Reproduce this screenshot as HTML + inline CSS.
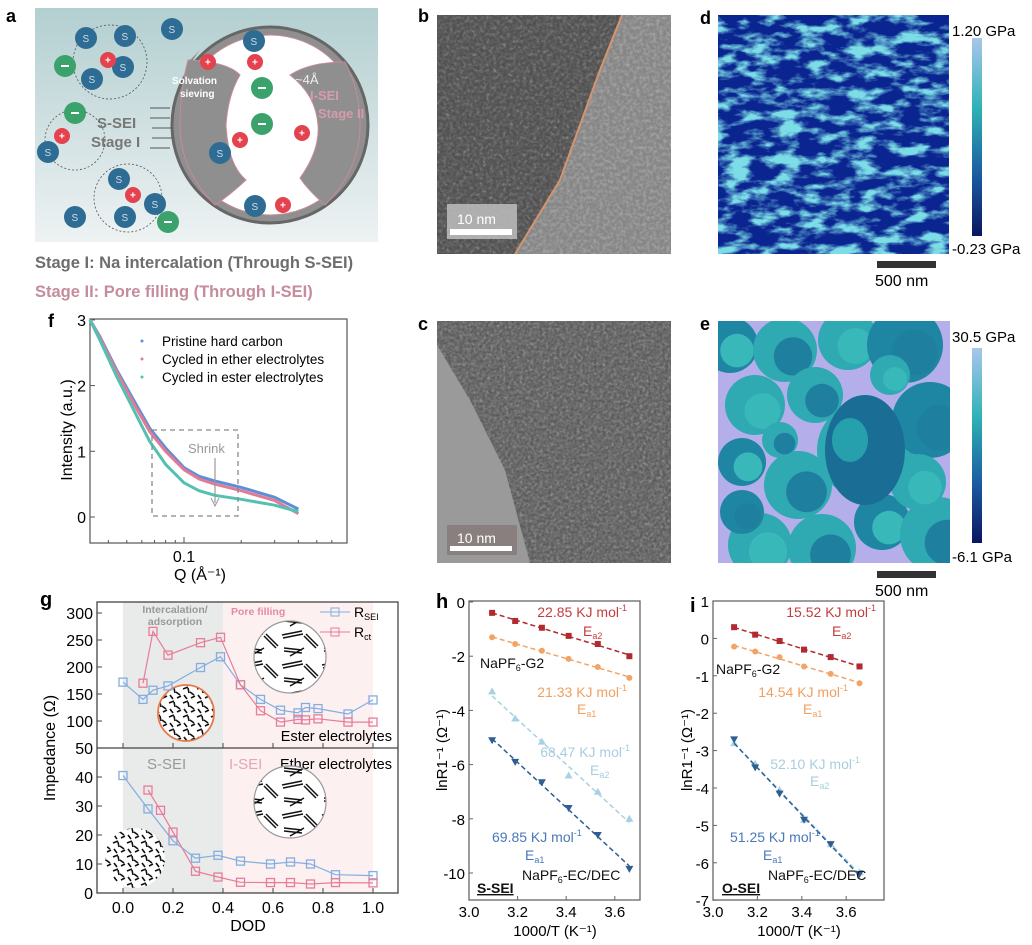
<!DOCTYPE html>
<html><head><meta charset="utf-8">
<style>
html,body{margin:0;padding:0;background:#fff;}
svg{display:block;font-family:"Liberation Sans",Arial,sans-serif;}
</style></head>
<body>
<svg id="fig" width="1032" height="945" viewBox="0 0 1032 945" xmlns="http://www.w3.org/2000/svg">
<defs>
 <linearGradient id="bgA" x1="0" y1="0" x2="0" y2="1"><stop offset="0" stop-color="#b3cfd0"/><stop offset="1" stop-color="#eef2f3"/></linearGradient>
 <linearGradient id="cbar" x1="0" y1="0" x2="0" y2="1"><stop offset="0" stop-color="#a9c6ea"/><stop offset="0.35" stop-color="#2fb3b5"/><stop offset="0.7" stop-color="#1a5aa0"/><stop offset="1" stop-color="#0a1560"/></linearGradient>
 <filter id="noiseDark" x="0" y="0" width="1" height="1"><feTurbulence type="fractalNoise" baseFrequency="0.35" numOctaves="2" seed="2"/><feColorMatrix type="matrix" values="0 0 0 0 0.1 0 0 0 0 0.1 0 0 0 0 0.1 2.2 0 0 0 -0.7"/></filter>
 <filter id="noiseLight" x="0" y="0" width="1" height="1"><feTurbulence type="fractalNoise" baseFrequency="0.3" numOctaves="2" seed="5"/><feColorMatrix type="matrix" values="0 0 0 0 0.95 0 0 0 0 0.95 0 0 0 0 0.95 1.6 0 0 0 -0.6"/></filter>
 <filter id="noiseD" x="0" y="0" width="1" height="1"><feTurbulence type="fractalNoise" baseFrequency="0.04 0.09" numOctaves="4" seed="11"/><feColorMatrix type="matrix" values="0 0 0 0 0.2 0 0 0 0 0.72 0 0 0 0 0.8 4 0 0 0 -1.75"/></filter>
 <pattern id="carbon" width="14" height="14" patternUnits="userSpaceOnUse">
  <rect width="14" height="14" fill="#fff"/>
  <path d="M1 3l5 -2M8 6l4 3M2 9l3 4M9 12l4 -2M6 2l1 5" stroke="#111" stroke-width="1.6"/>
 </pattern>
 <pattern id="carbonBig" width="40" height="30" patternUnits="userSpaceOnUse">
  <rect width="40" height="30" fill="#fff"/>
  <path d="M2 5l20 -4M3 8l20 -4M24 6l12 12M26 4l12 12M4 18l18 2M4 21l18 2M10 26l14 -8" stroke="#111" stroke-width="1.5" fill="none"/>
 </pattern>
 <clipPath id="cb"><polygon points="437,15 622,15 600,70 560,180 515,254 437,254"/></clipPath>
 <clipPath id="cc"><polygon points="437,321 671,321 671,563 530,563 505,470 470,400 437,345"/></clipPath>
 <clipPath id="ce"><rect x="718" y="321" width="232" height="242"/></clipPath>
</defs>

<!-- Panel a -->
<g>
 <text x="6" y="22" font-size="18" font-weight="bold">a</text>
 <rect x="35" y="8" width="343" height="234" fill="url(#bgA)"/>
 <circle cx="270" cy="125" r="98" fill="#8f8f8f" stroke="#666" stroke-width="3"/>
 <circle cx="270" cy="125" r="90" fill="#fff" stroke="#c98a9a" stroke-width="1"/>
 <path d="M188 60 Q228 62 240 75 Q228 95 226 125 Q228 165 246 180 Q230 195 215 205 Q180 170 180 125 Q180 90 188 60 Z" fill="#8f8f8f" stroke="#c98a9a" stroke-width="1"/>
 <path d="M180 125 Q176 80 200 50 L190 60 Q178 90 180 125Z" fill="#8f8f8f"/>
 <path d="M345 62 Q360 90 360 125 Q360 170 325 205 Q308 190 300 178 Q320 150 318 125 Q316 95 290 75 Q310 62 345 62 Z" fill="#8f8f8f" stroke="#c98a9a" stroke-width="1"/>
 <text x="172" y="84" font-size="10" fill="#fff" font-weight="bold">Solvation</text>
 <text x="180" y="97" font-size="10" fill="#fff" font-weight="bold">sieving</text>
 <text x="295" y="84" font-size="13" fill="#eee">~4Å</text>
 <text x="310" y="100" font-size="13" fill="#d79cab" font-weight="bold">I-SEI</text>
 <text x="318" y="118" font-size="13" fill="#d79cab" font-weight="bold">Stage II</text>
 <text x="97" y="128" font-size="15" fill="#777" font-weight="bold">S-SEI</text>
 <text x="91" y="147" font-size="15" fill="#777" font-weight="bold">Stage I</text>
 <path d="M150 108h20M150 118h20M152 128h20M152 138h20M150 148h20" stroke="#555" stroke-width="1"/>
 <g id="ions"></g>
 <text x="35" y="268" font-size="16.5" font-weight="bold" fill="#6d6d6d">Stage I: Na intercalation (Through S-SEI)</text>
 <text x="35" y="297" font-size="16.5" font-weight="bold" fill="#c58c9b">Stage II: Pore filling (Through I-SEI)</text>
</g>

<!-- Panel b -->
<g>
 <text x="418" y="22" font-size="18" font-weight="bold">b</text>
 <rect x="437" y="15" width="234" height="239" fill="#868686"/>
 <rect x="437" y="15" width="234" height="239" fill="#8f8f8f" filter="url(#noiseLight)" opacity="0.35"/>
 <polygon points="437,15 622,15 600,70 560,180 515,254 437,254" fill="#4e4e4e"/>
 <rect x="437" y="15" width="234" height="239" fill="#777" filter="url(#noiseLight)" opacity="0.45" clip-path="url(#cb)"/>
 <rect x="437" y="15" width="234" height="239" fill="#555" filter="url(#noiseDark)" clip-path="url(#cb)"/>
 <polyline points="622,15 600,70 560,180 515,254" fill="none" stroke="#d4956e" stroke-width="2"/>
 <rect x="447" y="204" width="70" height="35" fill="#b8b8b8" opacity="0.9"/>
 <text x="457" y="224" font-size="14" fill="#fff">10 nm</text>
 <rect x="450" y="229" width="62" height="6" fill="#fff"/>
</g>

<!-- Panel c -->
<g>
 <text x="418" y="330" font-size="18" font-weight="bold">c</text>
 <rect x="437" y="321" width="234" height="242" fill="#9a9a9a"/>
 <polygon points="437,321 671,321 671,563 530,563 505,470 470,400 437,345" fill="#6e6e6e"/>
 <rect x="437" y="321" width="234" height="242" fill="#777" filter="url(#noiseLight)" opacity="0.35" clip-path="url(#cc)"/>
 <rect x="437" y="321" width="234" height="242" fill="#777" filter="url(#noiseDark)" clip-path="url(#cc)"/>
 <rect x="447" y="525" width="70" height="30" fill="#8a7f7f"/>
 <text x="457" y="543" font-size="14" fill="#fff">10 nm</text>
 <rect x="450" y="546" width="62" height="5" fill="#fff"/>
</g>

<!-- Panel d -->
<g>
 <text x="700" y="24" font-size="18" font-weight="bold">d</text>
 <rect x="718" y="15" width="231" height="239" fill="#0b2590"/>
 <rect x="718" y="15" width="231" height="239" fill="#fff" filter="url(#noiseD)"/>
 <rect x="972" y="38" width="10" height="198" fill="url(#cbar)"/>
 <text x="952" y="36" font-size="15">1.20 GPa</text>
 <text x="952" y="254" font-size="15">-0.23 GPa</text>
 <rect x="877" y="261" width="59" height="7" fill="#333"/>
 <text x="875" y="286" font-size="16">500 nm</text>
</g>

<!-- Panel e -->
<g>
 <text x="700" y="330" font-size="18" font-weight="bold">e</text>
 <rect x="718" y="321" width="232" height="242" fill="#b4aeea"/>
 <g id="eblobs" clip-path="url(#ce)"></g>
 <rect x="972" y="348" width="10" height="195" fill="url(#cbar)"/>
 <text x="952" y="342" font-size="15">30.5 GPa</text>
 <text x="952" y="562" font-size="15">-6.1 GPa</text>
 <rect x="877" y="571" width="59" height="7" fill="#333"/>
 <text x="875" y="596" font-size="16">500 nm</text>
</g>

<g id="charts"></g>
</svg>
<script>
// ---------- data: panel f (SAXS) ----------
const fQ = [0.032,0.036,0.044,0.055,0.066,0.08,0.1,0.12,0.145,0.2,0.3,0.4];
const fPristine = [3.0,2.75,2.25,1.75,1.35,1.05,0.75,0.62,0.55,0.45,0.3,0.12];
const fEther = [3.0,2.73,2.22,1.7,1.3,1.0,0.72,0.58,0.5,0.4,0.25,0.05];
const fEster = [3.0,2.7,2.15,1.6,1.15,0.8,0.52,0.4,0.33,0.27,0.18,0.08];
const fYTicks = [0,1,2,3];
// ---------- data: panel g (impedance) ----------
const gTopSeiX = [0,0.08,0.12,0.18,0.31,0.39,0.47,0.55,0.63,0.70,0.73,0.78,0.9,1.0];
const gTopSei = [172,140,157,165,199,219,167,140,120,115,125,123,113,139];
const gTopCtX = [0.08,0.12,0.18,0.31,0.39,0.47,0.55,0.63,0.70,0.73,0.78,0.9,1.0];
const gTopCt = [170,266,222,245,255,167,119,98,103,102,104,98,98];
const gBotSeiX = [0,0.1,0.2,0.29,0.38,0.47,0.59,0.67,0.75,0.85,1.0];
const gBotSei = [40.5,29,18,12,13,11,10,10.7,10,6.3,6];
const gBotCtX = [0.1,0.15,0.2,0.29,0.38,0.47,0.59,0.67,0.75,0.85,1.0];
const gBotCt = [35.5,28.5,21,7.5,5.5,3.7,3.6,3.6,3.1,3.6,3.5];
const gTopTicks = [50,100,150,200,250,300];
const gBotTicks = [0,10,20,30,40];
const gXTicks = [0,0.2,0.4,0.6,0.8,1.0];
// ---------- data: panels h, i (Arrhenius) ----------
const arrX = [3.095,3.19,3.30,3.41,3.53,3.66];
const hEa2G2 = [-0.4,-0.7,-0.95,-1.25,-1.55,-2.0];
const hEa1G2 = [-1.3,-1.55,-1.8,-2.1,-2.4,-2.8];
const hEa2EC = [-3.3,-4.3,-5.15,-6.4,-7.0,-8.0];
const hEa1EC = [-5.1,-5.9,-6.65,-7.6,-8.6,-9.85];
const iEa2G2 = [0.3,0.1,-0.07,-0.3,-0.5,-0.75];
const iEa1G2 = [-0.22,-0.35,-0.5,-0.75,-0.95,-1.2];
const iEa2EC = [-2.8,-3.35,-4.05,-4.85,-5.5,-6.25];
const iEa1EC = [-2.7,-3.45,-4.15,-4.85,-5.5,-6.3];
const hYTicks = [0,-2,-4,-6,-8,-10];
const iYTicks = [1,0,-1,-2,-3,-4,-5,-6,-7];
const arrXTicks = [3.0,3.2,3.4,3.6];

const NS='http://www.w3.org/2000/svg';
const root=document.getElementById('charts');
function mk(tag,attrs,parent,txt){const e=document.createElementNS(NS,tag);for(const k in attrs)e.setAttribute(k,attrs[k]);if(txt!==undefined)e.textContent=txt;(parent||root).appendChild(e);return e;}
function grp(name,parent){const g=mk('g',{},parent);
 
 
 return g;}

// ---------- panel a ions (decorative) ----------
(function(){
 const ions=document.getElementById('ions');
 const S=[[86,38],[125,36],[172,29],[123,67],[92,79],[48,152],[119,179],[125,217],[155,204],[75,217],[254,41],[220,153],[255,206]];
 const P=[[108,60],[62,136],[133,195],[208,62],[255,62],[240,140],[302,133],[283,205]];
 const M=[[65,66],[75,113],[168,222],[262,88],[262,124]];
 [[110,62,37],[75,140,30],[128,198,34]].forEach(c=>mk('circle',{cx:c[0],cy:c[1],r:c[2],fill:'none',stroke:'#555','stroke-dasharray':'2 2','stroke-width':0.8},ions));
 S.forEach(p=>{mk('circle',{cx:p[0],cy:p[1],r:11,fill:'#2e6c93'},ions);mk('text',{x:p[0]-3.5,y:p[1]+4,'font-size':10,fill:'#cde'},ions,'S');});
 P.forEach(p=>{mk('circle',{cx:p[0],cy:p[1],r:8,fill:'#e4424e'},ions);mk('text',{x:p[0]-3,y:p[1]+3.5,'font-size':10,fill:'#fff','font-weight':'bold'},ions,'+');});
 M.forEach(p=>{mk('circle',{cx:p[0],cy:p[1],r:11,fill:'#3aa26a'},ions);mk('rect',{x:p[0]-4,y:p[1]-1,width:8,height:2,fill:'#fff'},ions);});
})();
// ---------- panel e blobs (decorative image) ----------
(function(){
 const g=document.getElementById('eblobs');
 const B=[[730,345,28],[785,350,32],[848,340,30],[905,345,38],[755,405,30],[815,395,28],[742,462,24],[798,485,34],[865,450,48],[930,420,38],[760,545,32],[822,548,34],[882,522,28],[938,535,38],[918,482,28],[742,512,22],[890,375,20],[780,440,18]];
 B.forEach((b,i)=>{mk('circle',{cx:b[0],cy:b[1],r:b[2],fill:i%3==0?'#1e86a2':'#2fa9b2'},g);mk('circle',{cx:b[0]+b[2]*0.25,cy:b[1]+b[2]*0.2,r:b[2]*0.6,fill:i%2?'#1f7f9f':'#38b8b8'},g);});
 mk('ellipse',{cx:865,cy:450,rx:40,ry:55,fill:'#1a6e96'},g);
 mk('ellipse',{cx:850,cy:440,rx:18,ry:22,fill:'#27a0ad'},g);
})();

// ---------- panel f ----------
(function(){
 const g=grp('panel-f-saxs-chart');
 const L=90,R=347,T=319,B=543;
 const xs=q=>184+190*Math.log10(q/0.1), ys=v=>517-65.7*v;
 mk('text',{x:48,y:327,'font-size':18,'font-weight':'bold'},g,'f');
 mk('rect',{x:L,y:T,width:R-L,height:B-T,fill:'none',stroke:'#555','stroke-width':1.2},g);
 fYTicks.forEach(t=>{const y=ys(t);mk('line',{x1:L,x2:L+5,y1:y,y2:y,stroke:'#555'},g);mk('text',{x:L-4,y:y+6,'font-size':16,'text-anchor':'end'},g,String(t));});
 [0.04,0.05,0.06,0.07,0.08,0.09,0.1,0.2,0.3,0.4,0.5,0.6].forEach(q=>{const x=xs(q);if(x>L&&x<R)mk('line',{x1:x,x2:x,y1:B,y2:B-(q==0.1?6:3),stroke:'#555'},g);});
 mk('text',{x:184,y:562,'font-size':16,'text-anchor':'middle'},g,'0.1');
 mk('text',{x:200,y:580,'font-size':16,'text-anchor':'middle'},g,'Q (Å⁻¹)');
 mk('text',{x:72,y:430,'font-size':16,'text-anchor':'middle',transform:'rotate(-90 72 430)'},g,'Intensity (a.u.)');
 const series=[[fPristine,'#5b8fd6','pristine'],[fEther,'#e47a95','ether'],[fEster,'#52c1b0','ester']];
 series.forEach(s=>{const d=fQ.map((q,i)=>(i?'L':'M')+xs(q).toFixed(1)+' '+ys(s[0][i]).toFixed(1)).join(' ');
  const p=mk('path',{d:d,fill:'none',stroke:s[1],'stroke-width':3,'stroke-linejoin':'round'},g);
  
  });
 const leg=[['Pristine hard carbon','#5b8fd6'],['Cycled in ether electrolytes','#e47a95'],['Cycled in ester electrolytes','#52c1b0']];
 leg.forEach((l,i)=>{const y=346+18*i;mk('circle',{cx:142,cy:y-5,r:1.5,fill:l[1]},g);
  const t=mk('text',{x:162,y:y,'font-size':13.5},g,l[0]);
  
  });
 mk('rect',{x:152,y:430,width:86,height:86,fill:'none',stroke:'#888','stroke-dasharray':'5 4','stroke-width':1.3},g);
 mk('text',{x:188,y:453,'font-size':13,fill:'#999'},g,'Shrink');
 mk('line',{x1:215,y1:458,x2:215,y2:503,stroke:'#999','stroke-width':1.2},g);
 mk('path',{d:'M211 498 L215 506 L219 498',fill:'none',stroke:'#999'},g);
})();

// ---------- panel g ----------
(function(){
 const g=grp('panel-g-impedance-chart');
 const L=97,R=398,T=602,M=748,B=893;
 const xs=d=>123+250*d, yt=v=>748-(v-50)*27/50, yb=v=>893-v*(893-777)/40;
 mk('text',{x:40,y:606,'font-size':20,'font-weight':'bold'},g,'g');
 mk('rect',{x:xs(0),y:T,width:xs(0.4)-xs(0),height:B-T,fill:'#e9eaea'},g);
 mk('rect',{x:xs(0.4),y:T,width:xs(1)-xs(0.4),height:B-T,fill:'#fcf0f1'},g);
 mk('text',{x:175,y:613,'font-size':10.5,fill:'#999','font-weight':'bold','text-anchor':'middle'},g,'Intercalation/');
 mk('text',{x:175,y:625,'font-size':10.5,fill:'#999','font-weight':'bold','text-anchor':'middle'},g,'adsorption');
 mk('text',{x:231,y:615,'font-size':10.5,fill:'#e58aa2','font-weight':'bold'},g,'Pore filling');
 mk('text',{x:147,y:769,'font-size':15,fill:'#999'},g,'S-SEI');
 mk('text',{x:229,y:769,'font-size':15,fill:'#e8a3b5'},g,'I-SEI');
 mk('text',{x:392,y:769,'font-size':14.5,'text-anchor':'end'},g,'Ether electrolytes');
 mk('text',{x:392,y:741,'font-size':14.5,'text-anchor':'end'},g,'Ester electrolytes');
 mk('circle',{cx:290,cy:657,r:36,fill:'url(#carbonBig)',stroke:'#999','stroke-width':1.2},g);
 mk('circle',{cx:290,cy:802,r:36,fill:'url(#carbonBig)',stroke:'#999','stroke-width':1.2},g);
 mk('circle',{cx:186,cy:713,r:28,fill:'url(#carbon)',stroke:'#e67a4a','stroke-width':1.8},g);
 mk('circle',{cx:135,cy:858,r:30,fill:'url(#carbon)'},g);
 mk('rect',{x:L,y:T,width:R-L,height:B-T,fill:'none',stroke:'#444','stroke-width':1.3},g);
 mk('line',{x1:L,x2:R,y1:M,y2:M,stroke:'#444','stroke-width':1.3},g);
 gTopTicks.forEach(t=>{const y=yt(t);mk('line',{x1:L,x2:L+5,y1:y,y2:y,stroke:'#444'},g);mk('text',{x:L-4,y:y+6,'font-size':16,'text-anchor':'end'},g,String(t));});
 gBotTicks.forEach(t=>{const y=yb(t);mk('line',{x1:L,x2:L+5,y1:y,y2:y,stroke:'#444'},g);mk('text',{x:L-4,y:y+6,'font-size':16,'text-anchor':'end'},g,String(t));});
 gXTicks.forEach(t=>{const x=xs(t);mk('line',{x1:x,x2:x,y1:B,y2:B-5,stroke:'#444'},g);mk('line',{x1:x,x2:x,y1:M,y2:M-5,stroke:'#444'},g);mk('text',{x:x,y:913,'font-size':16,'text-anchor':'middle'},g,t.toFixed(1));});
 mk('text',{x:248,y:931,'font-size':16,'text-anchor':'middle'},g,'DOD');
 mk('text',{x:55,y:748,'font-size':16,'text-anchor':'middle',transform:'rotate(-90 55 748)'},g,'Impedance (Ω)');
 function series(X,Y,ysc,col,name){const d=X.map((x,i)=>(i?'L':'M')+xs(x).toFixed(1)+' '+ysc(Y[i]).toFixed(1)).join(' ');
  const p=mk('path',{d:d,fill:'none',stroke:col,'stroke-width':1.2},g);
  
  
  X.forEach((x,i)=>{const r=mk('rect',{x:xs(x)-4,y:ysc(Y[i])-4,width:8,height:8,fill:'none',stroke:col,'stroke-width':1.3},g);
   
   });}
 series(gTopSeiX,gTopSei,yt,'#83aee0','r-sei-ester');
 series(gTopCtX,gTopCt,yt,'#e77d98','r-ct-ester');
 series(gBotSeiX,gBotSei,yb,'#83aee0','r-sei-ether');
 series(gBotCtX,gBotCt,yb,'#e77d98','r-ct-ether');
 [['#83aee0','R','SEI',617],['#e77d98','R','ct',637]].forEach(l=>{mk('line',{x1:320,x2:350,y1:l[3]-5,y2:l[3]-5,stroke:l[0]},g);mk('rect',{x:331,y:l[3]-9,width:8,height:8,fill:'none',stroke:l[0]},g);
  const t=mk('text',{x:354,y:l[3],'font-size':14},g);
  
  
  mk('tspan',{},t,l[1]);mk('tspan',{'font-size':9,dy:3},t,l[2]);});
})();

// ---------- panels h, i ----------
function arrPanel(opt){
 const g=grp(opt.name);
 const L=opt.L,R=opt.L+171,T=601,B=900;
 const xs=v=>opt.L+(v-3)*opt.kx, ys=v=>opt.y0+(opt.ymax-v)*opt.ky;
 mk('text',{x:opt.lx,y:opt.ly,'font-size':20,'font-weight':'bold'},g,opt.letter);
 mk('rect',{x:L,y:T,width:R-L,height:B-T,fill:'none',stroke:'#666','stroke-width':1.3},g);
 opt.yt.forEach(t=>{const y=ys(t);mk('line',{x1:L,x2:L+4,y1:y,y2:y,stroke:'#666'},g);mk('text',{x:L-4,y:y+6,'font-size':15,'text-anchor':'end'},g,String(t));});
 arrXTicks.forEach(t=>{const x=xs(t);mk('line',{x1:x,x2:x,y1:B,y2:B-4,stroke:'#666'},g);mk('text',{x:x,y:917,'font-size':15,'text-anchor':'middle'},g,t.toFixed(1));});
 mk('text',{x:L+86,y:936,'font-size':15,'text-anchor':'middle'},g,'1000/T (K⁻¹)');
 mk('text',{x:opt.yl,y:750,'font-size':15,'text-anchor':'middle',transform:'rotate(-90 '+opt.yl+' 750)'},g,'lnR1⁻¹ (Ω⁻¹)');
 opt.series.forEach(s=>{
  const Y=s[0],col=s[1],shape=s[2];
  const n=arrX.length,mx=arrX.reduce((a,b)=>a+b)/n,my=Y.reduce((a,b)=>a+b)/n;
  let sxy=0,sxx=0;arrX.forEach((x,i)=>{sxy+=(x-mx)*(Y[i]-my);sxx+=(x-mx)*(x-mx);});
  const k=sxy/sxx,b=my-k*mx;
  const ln=mk('line',{x1:xs(arrX[0]),y1:ys(k*arrX[0]+b),x2:xs(arrX[n-1]),y2:ys(k*arrX[n-1]+b),stroke:col,'stroke-width':1.5,'stroke-dasharray':'5 3'},g);
  
  
  arrX.forEach((x,i)=>{const cx=xs(x),cy=ys(Y[i]);let m;
   if(shape=='sq')m=mk('rect',{x:cx-3,y:cy-3,width:6,height:6,fill:col},g);
   else if(shape=='ci')m=mk('circle',{cx:cx,cy:cy,r:3,fill:col},g);
   else if(shape=='up')m=mk('path',{d:`M${cx} ${cy-4}L${cx+4} ${cy+3}L${cx-4} ${cy+3}Z`,fill:col},g);
   else m=mk('path',{d:`M${cx} ${cy+4}L${cx+4} ${cy-3}L${cx-4} ${cy-3}Z`,fill:col},g);
   
   });
 });
 opt.notes.forEach(n=>{const t=mk('text',{x:n[0],y:n[1],'font-size':14,fill:n[3],'text-anchor':n[4]||'start'},g);
  if(n[2][0]=='E'){mk('tspan',{},t,'E');mk('tspan',{'font-size':9,dy:3},t,n[2].slice(1));}
  else if(n[2].indexOf('mol')>0){mk('tspan',{},t,n[2]);mk('tspan',{'font-size':9,dy:-6},t,'-1');}
  else if(n[2].indexOf('NaPF')==0){mk('tspan',{},t,'NaPF');mk('tspan',{'font-size':9,dy:3},t,'6');mk('tspan',{dy:-3},t,n[2].slice(5));}
  else {t.textContent=n[2];t.setAttribute('font-weight','bold');t.setAttribute('text-decoration','underline');}});
}
arrPanel({name:'panel-h-arrhenius-chart',letter:'h',lx:436,ly:608,L:469,kx:243,y0:602,ymax:0,ky:27.1,yt:hYTicks,yl:447,
 series:[[hEa2G2,'#b02a2f','sq','g2-ea2'],[hEa1G2,'#f2a467','ci','g2-ea1'],[hEa2EC,'#a9d0e6','up','ec-ea2'],[hEa1EC,'#2f5f92','dn','ec-ea1']],
 notes:[[627,617,'22.85 KJ mol','#c43d3d','end'],[583,636,'Ea2','#c43d3d'],[480,668,'NaPF6-G2','#111'],[627,697,'21.33 KJ mol','#f0a060','end'],[577,714,'Ea1','#f0a060'],[630,757,'68.47 KJ mol','#a9cde0','end'],[590,775,'Ea2','#a9cde0'],[492,842,'69.85 KJ mol','#4a78b8'],[525,860,'Ea1','#4a78b8'],[522,880,'NaPF6-EC/DEC','#111'],[477,893,'S-SEI','#111']]});
arrPanel({name:'panel-i-arrhenius-chart',letter:'i',lx:690,ly:612,L:713,kx:222,y0:601,ymax:1,ky:37.4,yt:iYTicks,yl:692,
 series:[[iEa2G2,'#b02a2f','sq','g2-ea2'],[iEa1G2,'#f2a467','ci','g2-ea1'],[iEa2EC,'#a9d0e6','up','ec-ea2'],[iEa1EC,'#2f5f92','dn','ec-ea1']],
 notes:[[876,617,'15.52 KJ mol','#c43d3d','end'],[832,636,'Ea2','#c43d3d'],[716,674,'NaPF6-G2','#111'],[848,697,'14.54 KJ mol','#f0a060','end'],[803,714,'Ea1','#f0a060'],[860,769,'52.10 KJ mol','#a9cde0','end'],[810,786,'Ea2','#a9cde0'],[730,842,'51.25 KJ mol','#4a78b8'],[763,860,'Ea1','#4a78b8'],[768,880,'NaPF6-EC/DEC','#111'],[722,893,'O-SEI','#111']]});
</script>
</body></html>
